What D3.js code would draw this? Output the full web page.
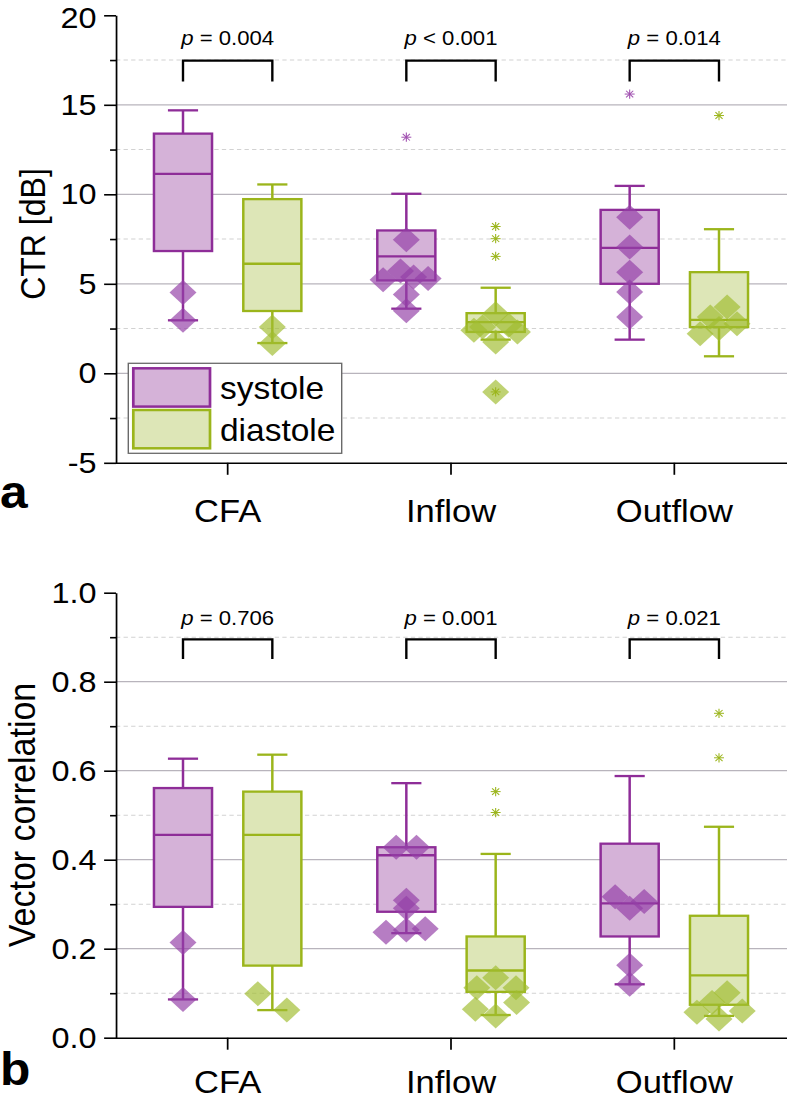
<!DOCTYPE html>
<html><head><meta charset="utf-8">
<script src="https://cdn.jsdelivr.net/npm/d3@7"></script>
<style>
body{margin:0;background:#fff}
svg{display:block}
text{font-family:"Liberation Sans",Arial,Helvetica,sans-serif;fill:#000}
</style>
</head><body>
<svg id="c" width="787" height="1099"></svg>
<script>
// ---------------- data ----------------
const categories = ["CFA", "Inflow", "Outflow"];
const groups = ["systole", "diastole"];

// box stats: [whiskerLow, q1, median, q3, whiskerHigh]
const ctrSystole  = [[2.96, 6.83, 11.14, 13.39, 14.69], [3.61, 5.19, 6.53, 7.98, 10.03], [1.88, 5.00, 7.01, 9.13, 10.47]];
const ctrDiastole = [[1.69, 3.48, 6.12, 9.73, 10.55],   [1.88, 2.31, 2.86, 3.36, 4.78],  [0.95, 2.58, 2.98, 5.65, 8.05]];
const ctrSysOutliers = [[], [13.19], [15.6]];
const ctrDiaOutliers = [[], [8.2, 7.52, 6.53, -1.04], [14.4]];
const ctrSysPoints = [[4.52, 2.96], [7.46, 5.23, 5.71, 5.38, 5.30, 4.40, 3.50], [8.72, 7.05, 5.65, 4.54, 3.14]];
const ctrSysJitter = [[0, 0], [0, -0.8, -0.2, 0.25, 0.75, 0, 0], [0, 0, 0, 0, 0]];
const ctrDiaPoints = [[2.58, 1.66], [3.33, 2.58, 2.68, 2.40, 2.31, 1.75, -1.04], [2.21, 3.14, 3.70, 2.77, 2.50]];
const ctrDiaJitter = [[0, 0], [0, -0.45, 0.45, -0.75, 0.75, 0, 0], [-0.65, -0.3, 0.28, 0.62, 0]];
const ctrPvalues = ["= 0.004", "< 0.001", "= 0.014"];
const ctrTicks = [-5, 0, 5, 10, 15, 20];
const ctrMinor = [-2.5, 2.5, 7.5, 12.5, 17.5];
const ctrBracket = {text: 18.36, top: 17.47, arm: 16.3};

const vcSystole  = [[0.086, 0.294, 0.456, 0.561, 0.627], [0.235, 0.283, 0.410, 0.428, 0.572], [0.120, 0.2275, 0.302, 0.436, 0.588]];
const vcDiastole = [[0.062, 0.162, 0.456, 0.553, 0.636], [0.051, 0.103, 0.151, 0.2275, 0.413], [0.049, 0.074, 0.140, 0.274, 0.474]];
const vcSysOutliers = [[], [], []];
const vcDiaOutliers = [[], [0.553, 0.506], [0.729, 0.629]];
const vcSysPoints = [[0.214, 0.086], [0.428, 0.428, 0.309, 0.291, 0.237, 0.242, 0.245], [0.317, 0.291, 0.306, 0.163, 0.120]];
const vcSysJitter = [[0, 0], [-0.35, 0.35, 0, 0, -0.7, 0, 0.65], [-0.5, 0, 0.5, 0, 0]];
const vcDiaPoints = [[0.099, 0.062], [0.112, 0.135, 0.112, 0.064, 0.049, 0.079], [0.057, 0.079, 0.101, 0.042, 0.060]];
const vcDiaJitter = [[-0.5, 0.5], [-0.65, 0, 0.7, -0.7, 0, 0.72], [-0.76, -0.24, 0.28, 0, 0.8]];
const vcPvalues = ["= 0.706", "= 0.001", "= 0.021"];
const vcTicks = [0, 0.2, 0.4, 0.6, 0.8, 1.0];
const vcMinor = [0.1, 0.3, 0.5, 0.7, 0.9];
const vcBracket = {text: 0.928, top: 0.895, arm: 0.851};

// ---------------- style ----------------
const K = 1.08; // horizontal stretch of the original figure
const colors = {
  systole:  {stroke: "#8e2d98", fill: "#d5b2d8", pt: "#9440a6", star: "#a050b0"},
  diastole: {stroke: "#9bb51b", fill: "#dde6b7", pt: "#a0bd30", star: "#9bb51b"}
};

const svg = d3.select("#c");
const root = svg.append("g").attr("transform", `scale(${K},1)`);
const X0 = 116 / K, X1 = 787 / K;

const x = d3.scaleBand().domain(categories).range([116 / K, 786 / K]).paddingInner(0).paddingOuter(0);
const bw = x.bandwidth();
const off = bw * 0.2;
const boxW = bw * 0.26;
const capW = bw * 0.135;
const halfBox = boxW / 2;
const DR = 12.5; // diamond half-diagonal

function drawPanel(o) {
  const y = d3.scaleLinear().domain(o.domain).range([o.bottom, o.top]);
  const g = root.append("g");

  // grid
  g.selectAll(".mgrid").data(o.minor).join("line")
    .attr("x1", X0).attr("x2", X1).attr("y1", d => y(d)).attr("y2", d => y(d))
    .attr("stroke", "#d2d2d2").attr("stroke-width", 1).attr("stroke-dasharray", "4,3");
  g.selectAll(".Mgrid").data(o.ticks.slice(1, -1)).join("line")
    .attr("x1", X0).attr("x2", X1).attr("y1", d => y(d)).attr("y2", d => y(d))
    .attr("stroke", "#b8b4bc").attr("stroke-width", 1.2);

  // axes
  const ya = g.append("g").attr("transform", `translate(${X0},0)`)
    .call(d3.axisLeft(y).tickValues(o.ticks).tickSize(11).tickSizeOuter(0).tickPadding(7).tickFormat(o.fmt));
  ya.selectAll("text").attr("font-size", 30).attr("fill", "#000").style("font-family", '"Liberation Sans",Arial,sans-serif')
    .attr("y", d => (d === o.domain[1] && y(d) < 20) ? 2.2 : 0);
  ya.selectAll("line,path").attr("stroke", "#000").attr("stroke-width", 1.6);
  const ym = g.append("g").attr("transform", `translate(${X0},0)`)
    .call(d3.axisLeft(y).tickValues(o.minor).tickSize(5.5).tickFormat(""));
  ym.select(".domain").remove();
  ym.selectAll("line").attr("stroke", "#000").attr("stroke-width", 1.6);

  const xa = g.append("g").attr("transform", `translate(0,${o.bottom})`)
    .call(d3.axisBottom(x).tickSize(12).tickSizeOuter(0).tickPadding(o.xPad));
  xa.select(".domain").attr("d", `M${X0},0.5H${X1}`);
  xa.selectAll("line,path").attr("stroke", "#000").attr("stroke-width", 1.6);
  xa.selectAll("text").attr("font-size", 32).attr("fill", "#000").style("font-family", '"Liberation Sans",Arial,sans-serif');

  // y label
  g.append("text")
    .attr("transform", `translate(${o.labelX / K},${o.labelY}) rotate(-90)`)
    .attr("text-anchor", "middle").attr("font-size", o.labelSize).text(o.label);

  // panel letter
  g.append("text").attr("x", 0).attr("y", o.letterY).attr("font-size", 46).attr("font-weight", "bold").text(o.letter);

  // boxes
  const sets = [
    {grp: "systole", stats: o.sys, pts: o.sysPts, jit: o.sysJit, outl: o.sysOut, dx: -off},
    {grp: "diastole", stats: o.dia, pts: o.diaPts, jit: o.diaJit, outl: o.diaOut, dx: off}
  ];
  sets.forEach(s => {
    const c = colors[s.grp];
    categories.forEach((cat, i) => {
      const cx = x(cat) + bw / 2 + s.dx;
      const [lo, q1, md, q3, hi] = s.stats[i];
      const bg = g.append("g");
      bg.append("rect").attr("x", cx - boxW / 2).attr("width", boxW)
        .attr("y", y(q3)).attr("height", y(q1) - y(q3))
        .attr("fill", c.fill).attr("stroke", c.stroke).attr("stroke-width", 2.3);
      bg.append("line").attr("x1", cx - boxW / 2).attr("x2", cx + boxW / 2).attr("y1", y(md)).attr("y2", y(md))
        .attr("stroke", c.stroke).attr("stroke-width", 2.3);
      [[q3, hi], [q1, lo]].forEach(([a, b]) => {
        bg.append("line").attr("x1", cx).attr("x2", cx).attr("y1", y(a)).attr("y2", y(b))
          .attr("stroke", c.stroke).attr("stroke-width", 2.3);
        bg.append("line").attr("x1", cx - capW / 2).attr("x2", cx + capW / 2).attr("y1", y(b)).attr("y2", y(b))
          .attr("stroke", c.stroke).attr("stroke-width", 2.3);
      });
      // data points (diamonds)
      bg.selectAll(".pt").data(s.pts[i].map((v, j) => ({v, j: s.jit[i][j]}))).join("path")
        .attr("d", `M0,${-DR}L${DR},0L0,${DR}L${-DR},0Z`)
        .attr("transform", d => `translate(${cx + d.j * halfBox},${y(d.v)})`)
        .attr("fill", c.pt).attr("fill-opacity", 0.68);
      // outliers (asterisks)
      const r = 4.6;
      s.outl[i].forEach(v => {
        const st = bg.append("g").attr("transform", `translate(${cx},${y(v)})`);
        [[0, -r, 0, r], [-r, 0, r, 0], [-r * 0.72, -r * 0.72, r * 0.72, r * 0.72], [-r * 0.72, r * 0.72, r * 0.72, -r * 0.72]]
          .forEach(l => st.append("line").attr("x1", l[0]).attr("y1", l[1]).attr("x2", l[2]).attr("y2", l[3])
            .attr("stroke", c.star).attr("stroke-width", 1));
      });
    });
  });

  // significance brackets
  categories.forEach((cat, i) => {
    const c = x(cat) + bw / 2;
    g.append("path")
      .attr("d", `M${c - off},${y(o.br.arm)}V${y(o.br.top)}H${c + off}V${y(o.br.arm)}`)
      .attr("fill", "none").attr("stroke", "#000").attr("stroke-width", 2.2);
    const t = g.append("text").attr("x", c).attr("y", y(o.br.text)).attr("text-anchor", "middle").attr("font-size", 20.5);
    t.append("tspan").attr("font-style", "italic").text("p");
    t.append("tspan").text(" " + o.pv[i]);
  });
  return y;
}

drawPanel({
  domain: [-5, 20], top: 15.3, bottom: 462.8, ticks: ctrTicks, minor: ctrMinor, fmt: d => String(d),
  sys: ctrSystole, dia: ctrDiastole, sysPts: ctrSysPoints, sysJit: ctrSysJitter, diaPts: ctrDiaPoints, diaJit: ctrDiaJitter,
  sysOut: ctrSysOutliers, diaOut: ctrDiaOutliers, pv: ctrPvalues, br: ctrBracket, xPad: 24.5,
  label: "CTR [dB]", labelSize: 32, labelX: 45, labelY: 234, letter: "a", letterY: 508
});

drawPanel({
  domain: [0, 1], top: 592.7, bottom: 1037.7, ticks: vcTicks, minor: vcMinor, fmt: d3.format(".1f"),
  sys: vcSystole, dia: vcDiastole, sysPts: vcSysPoints, sysJit: vcSysJitter, diaPts: vcDiaPoints, diaJit: vcDiaJitter,
  sysOut: vcSysOutliers, diaOut: vcDiaOutliers, pv: vcPvalues, br: vcBracket, xPad: 21,
  label: "Vector correlation", labelSize: 34, labelX: 34.5, labelY: 815, letter: "b", letterY: 1085
});

// legend (top panel)
const lg = root.append("g");
lg.append("rect").attr("x", 128.3 / K).attr("y", 363.3).attr("width", (341.7 - 128.3) / K).attr("height", 90)
  .attr("fill", "#fff").attr("stroke", "#6a6a6a").attr("stroke-width", 1.3);
groups.forEach((gname, i) => {
  const c = colors[gname];
  lg.append("rect").attr("x", 133.3 / K).attr("y", 368.3 + i * 41.7).attr("width", (210 - 133.3) / K).attr("height", 38.3)
    .attr("fill", c.fill).attr("stroke", c.stroke).attr("stroke-width", 2.5);
  lg.append("text").attr("x", 220 / K).attr("y", 399 + i * 42).attr("font-size", 31).text(gname);
});
</script>
</body></html>
